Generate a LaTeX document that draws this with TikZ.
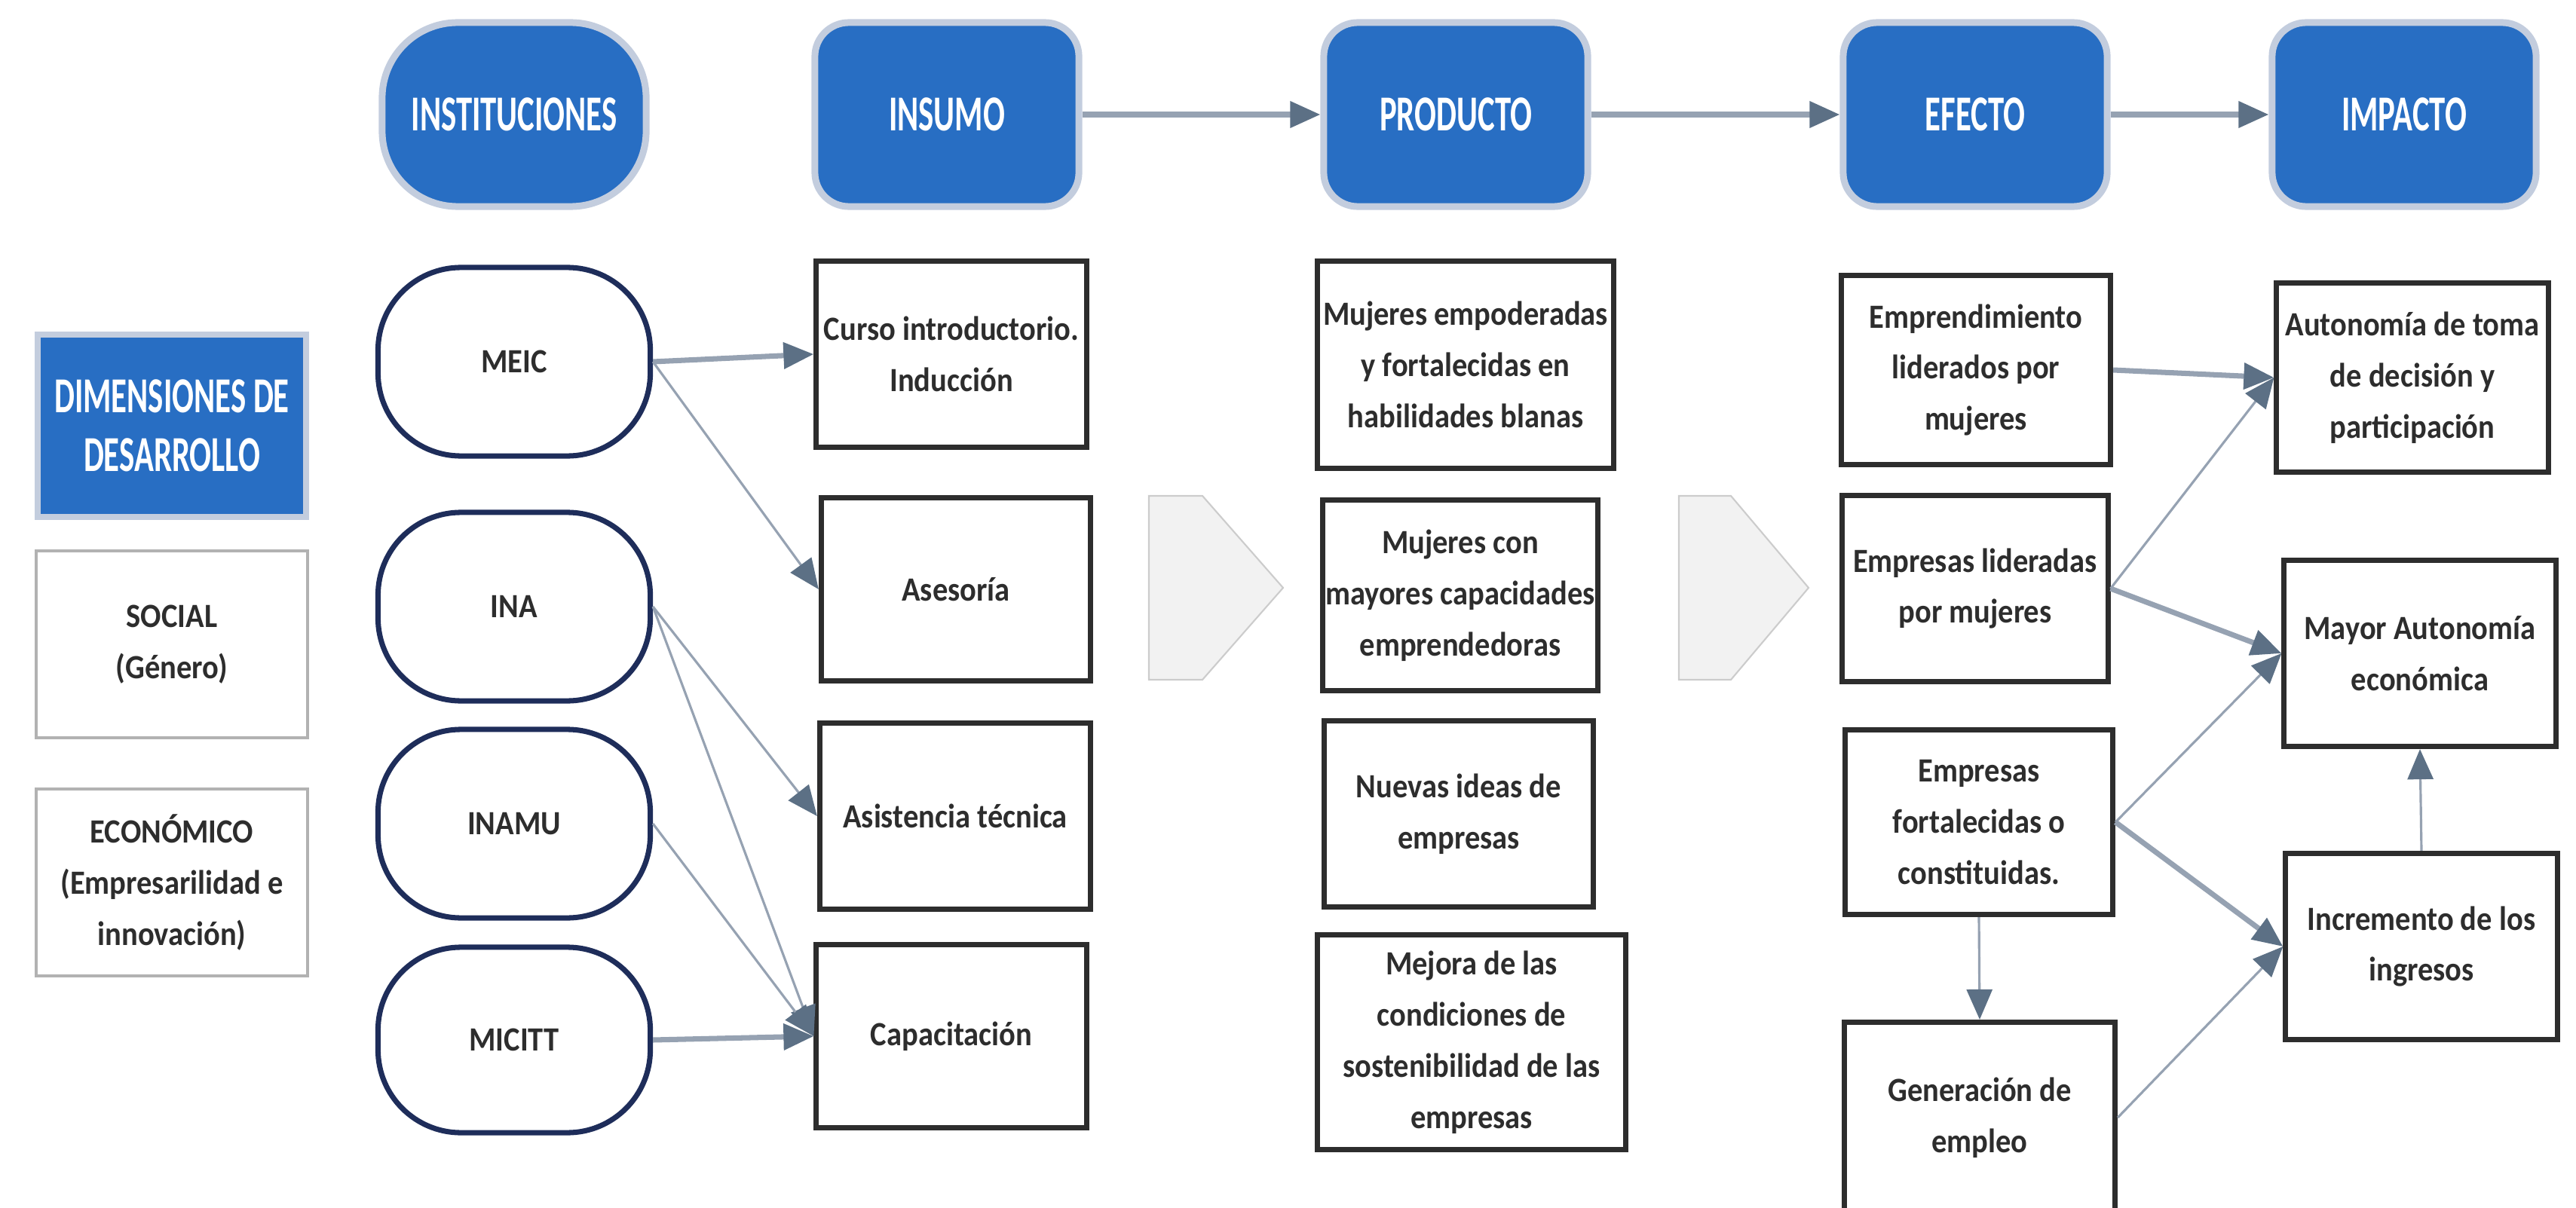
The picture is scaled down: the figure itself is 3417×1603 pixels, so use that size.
\documentclass[tikz,border=0pt]{standalone}
\usepackage{fontspec}
\setmainfont{Carlito}[FakeStretch=0.9]
\newfontfamily\cabecerafont{Carlito}[FakeStretch=0.64]
\usetikzlibrary{arrows.meta}

\definecolor{azulcaja}{RGB}{40,110,195}
\definecolor{bordeazul}{RGB}{195,205,222}
\definecolor{marino}{RGB}{30,45,90}
\definecolor{flechagris}{RGB}{150,162,178}
\definecolor{puntagris}{RGB}{92,112,133}
\definecolor{textogris}{RGB}{45,45,45}
\definecolor{chevrongris}{RGB}{242,242,242}

\tikzset{
    cabeza/.style={rectangle, rounded corners=0.45cm, fill=azulcaja, draw=bordeazul,
        line width=0.9mm, minimum width=3.5cm, minimum height=2.44cm, text=white,
        font=\cabecerafont\bfseries\fontsize{19}{22}\selectfont, align=center},
    inst/.style={rectangle, rounded corners=1.1cm, draw=marino, line width=2pt, fill=white,
        minimum width=3.61cm, minimum height=2.5cm, text=textogris,
        font=\bfseries\fontsize{12.8}{19.3}\selectfont},
    caja/.style={rectangle, draw=textogris, line width=2pt, fill=white, align=center,
        text=textogris, font=\bfseries\fontsize{12.8}{19.3}\selectfont, inner sep=1pt},
    dimension/.style={caja, draw=gray!60, line width=1.2pt, minimum width=3.6cm, minimum height=2.48cm},
    flecha/.style={draw=flechagris, line width=0.9pt,
        -{Triangle[length=4mm, width=3.4mm, color=puntagris]}},
    flecha gruesa/.style={flecha, line width=2pt}
}

\begin{document}
\begin{tikzpicture}[x=0.01cm, y=-0.01cm]
    % Page: one unit is one pixel of the original figure
    \useasboundingbox (0,0) rectangle (3417,1603);

    % Headers of the chain:
    \node [cabeza, rounded corners=1cm] (hinst) at (682,152) {INSTITUCIONES};
    \node [cabeza] (hinsumo) at (1256,152) {INSUMO};
    \node [cabeza] (hproducto) at (1931,152) {PRODUCTO};
    \node [cabeza] (hefecto) at (2620,152) {EFECTO};
    \node [cabeza] (himpacto) at (3189,152) {IMPACTO};

    % Dimensions on the left:
    \node [cabeza, rounded corners=0pt, line width=0.8mm, minimum width=3.56cm, minimum height=2.41cm]
        (dim) at (228,565) {DIMENSIONES DE\\DESARROLLO};
    \node [dimension] (social) at (228,855) {SOCIAL\\(Género)};
    \node [dimension] (econ) at (228,1171) {ECONÓMICO\\(Empresarilidad e\\innovación)};

    % Institutions:
    \node [inst] (meic) at (682,480) {MEIC};
    \node [inst] (ina) at (682,805) {INA};
    \node [inst] (inamu) at (682,1093) {INAMU};
    \node [inst, minimum height=2.46cm] (micitt) at (682,1380) {MICITT};

    % Insumo column:
    \node [caja, minimum width=3.58cm, minimum height=2.46cm] (curso) at (1262,470) {Curso introductorio.\\Inducción};
    \node [caja, minimum width=3.57cm, minimum height=2.42cm] (asesoria) at (1268,782) {Asesoría};
    \node [caja, minimum width=3.59cm, minimum height=2.47cm] (asistencia) at (1267,1083) {Asistencia técnica};
    \node [caja, minimum width=3.58cm, minimum height=2.43cm] (capacitacion) at (1262,1375) {Capacitación};

    % Producto column:
    \node [caja, minimum width=3.92cm, minimum height=2.75cm] (p1) at (1944,484) {Mujeres empoderadas\\y fortalecidas en\\habilidades blanas};
    \node [caja, minimum width=3.65cm, minimum height=2.52cm] (p2) at (1937,790) {Mujeres con\\mayores capacidades\\emprendedoras};
    \node [caja, minimum width=3.57cm, minimum height=2.47cm] (p3) at (1935,1080) {Nuevas ideas de\\empresas};
    \node [caja, minimum width=4.08cm, minimum height=2.85cm] (p4) at (1952,1383) {Mejora de las\\condiciones de\\sostenibilidad de las\\empresas};

    % Efecto column:
    \node [caja, minimum width=3.57cm, minimum height=2.5cm] (e1) at (2621,491) {Emprendimiento\\liderados por\\mujeres};
    \node [caja, minimum width=3.52cm, minimum height=2.46cm] (e2) at (2620,781) {Empresas lideradas\\por mujeres};
    \node [caja, minimum width=3.55cm, minimum height=2.45cm] (e3) at (2625,1091) {Empresas\\fortalecidas o\\constituidas.};
    \node [caja, minimum width=3.59cm, minimum height=2.53cm] (e4) at (2626,1483) {Generación de\\empleo};

    % Impacto column:
    \node [caja, minimum width=3.6cm, minimum height=2.51cm] (i1) at (3200,501) {Autonomía de toma\\de decisión y\\participación};
    \node [caja, minimum width=3.6cm, minimum height=2.47cm] (i2) at (3210,867) {Mayor Autonomía\\económica};
    \node [caja, minimum width=3.6cm, minimum height=2.47cm] (i3) at (3212,1256) {Incremento de los\\ingresos};

    % Chevrons between the columns
    \path [fill=chevrongris, draw=gray!40, line width=0.6pt] (1524,658) -- (1595,658) -- (1702,780) -- (1595,902) -- (1524,902) -- cycle;
    \path [fill=chevrongris, draw=gray!40, line width=0.6pt] (2227,658) -- (2296,658) -- (2399,780) -- (2296,902) -- (2227,902) -- cycle;

    % Arrows of the chain
    \draw [flecha gruesa] (hinsumo) -- (hproducto);
    \draw [flecha gruesa] (hproducto) -- (hefecto);
    \draw [flecha gruesa] (hefecto) -- (himpacto);

    % Institutions to insumos
    \draw [flecha gruesa] (meic.east) -- (curso.west);
    \draw [flecha] (meic.east) -- (asesoria.west);
    \draw [flecha] (ina.east) -- (asistencia.west);
    \draw [flecha] (ina.east) -- (capacitacion.west);
    \draw [flecha] (inamu.east) -- (capacitacion.west);
    \draw [flecha gruesa] (micitt.east) -- (capacitacion.west);

    % Efectos to impactos
    \draw [flecha gruesa] (e1.east) -- (i1.west);
    \draw [flecha] (e2.east) -- (i1.west);
    \draw [flecha gruesa] (e2.east) -- (i2.west);
    \draw [flecha] (e3.east) -- (i2.west);
    \draw [flecha gruesa] (e3.east) -- (i3.west);
    \draw [flecha] (e4.east) -- (i3.west);
    \draw [flecha] (e3.south) -- (e4.north);
    \draw [flecha] (i3.north) -- (i2.south);
\end{tikzpicture}
\end{document}
